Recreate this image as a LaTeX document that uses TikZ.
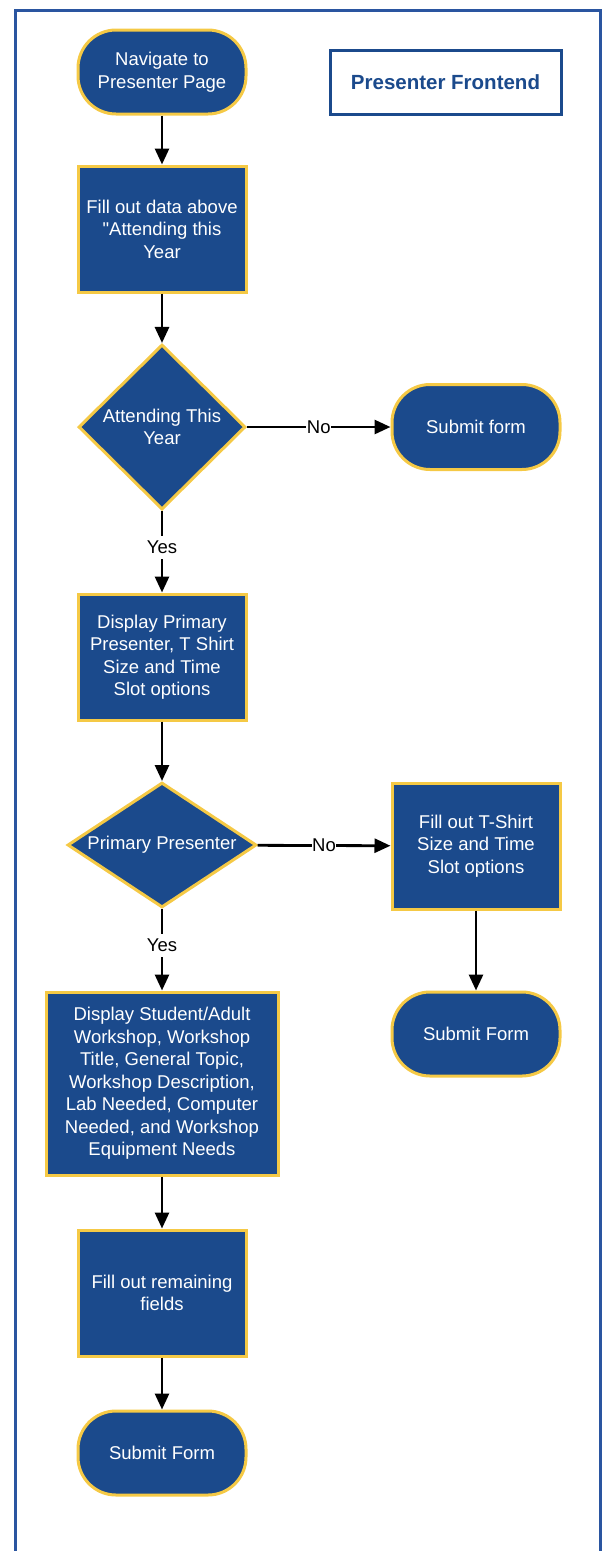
\documentclass[tikz,border=0pt]{standalone}
\usepackage{fontspec}
\setmainfont{Liberation Sans}
\usetikzlibrary{shapes.geometric,arrows.meta}
\definecolor{boxblue}{HTML}{1B4A8C}
\definecolor{boxgold}{HTML}{F5C945}
\definecolor{frameblue}{HTML}{2A55A0}
\begin{document}
\begin{tikzpicture}[x=1pt,y=-1pt,
  base/.style={fill=boxblue, draw=boxgold, line width=3pt, text=white, align=center,
    font=\fontsize{18.5}{22.5}\selectfont, inner sep=0pt},
  procbox/.style={base, rectangle, minimum width=168pt, minimum height=126pt},
  termbox/.style={base, rectangle, rounded corners=38pt, minimum width=168pt, minimum height=84pt},
  decbox/.style={base, diamond},
  conn/.style={line width=2.8pt, -{Triangle[length=16pt,width=14pt]}},
  lbl/.style={fill=white, text=black, font=\fontsize{18.5}{20}\selectfont, inner xsep=0.5pt, inner ysep=5pt}
]
\useasboundingbox (0,0) rectangle (602,1551);
\draw[frameblue, line width=3pt] (15,1560) -- (15,10) -- (600,10) -- (600,1560);

\node[termbox] (nav) at (162,72) {Navigate to\\Presenter Page};
\node[draw=boxblue, line width=3pt, minimum width=231pt, minimum height=64pt, text=boxblue,
  font=\fontsize{20.5}{24}\selectfont\bfseries] (title) at (445.5,82) {Presenter Frontend};
\node[procbox] (fill1) at (162,229) {Fill out data above\\\textquotedbl Attending this\\Year};
\node[decbox, aspect=1, minimum width=167pt, minimum height=165pt] (att) at (162,427) {Attending This\\Year};
\node[termbox, minimum height=85pt] (sub1) at (476,427) {Submit form};
\node[procbox] (disp1) at (162,657) {Display Primary\\Presenter, T Shirt\\Size and Time\\Slot options};
\node[decbox, aspect=1.5, minimum width=189pt, minimum height=125pt] (prim) at (162,845) {Primary Presenter};
\node[procbox] (fill2) at (476,846) {Fill out T-Shirt\\Size and Time\\Slot options};
\node[termbox] (sub2) at (476,1034) {Submit Form};
\node[procbox, minimum width=232pt, minimum height=183pt] (disp2) at (162,1083.5)
  {Display Student/Adult\\Workshop, Workshop\\Title, General Topic,\\Workshop Description,\\Lab Needed, Computer\\Needed, and Workshop\\Equipment Needs};
\node[procbox] (fill3) at (162,1293) {Fill out remaining\\fields};
\node[termbox] (sub3) at (162,1453) {Submit Form};

\draw[conn] (nav) -- (fill1);
\draw[conn] (fill1) -- (att);
\draw[conn] (att) -- node[lbl, inner ysep=1pt] {No} (sub1);
\draw[conn] (att) -- node[lbl, pos=0.45] {Yes} (disp1);
\draw[conn] (disp1) -- (prim);
\draw[conn] (prim) -- node[lbl, inner ysep=1pt] {No} (fill2);
\draw[conn] (prim) -- node[lbl, pos=0.45] {Yes} (disp2);
\draw[conn] (fill2) -- (sub2);
\draw[conn] (disp2) -- (fill3);
\draw[conn] (fill3) -- (sub3);
\end{tikzpicture}
\end{document}
